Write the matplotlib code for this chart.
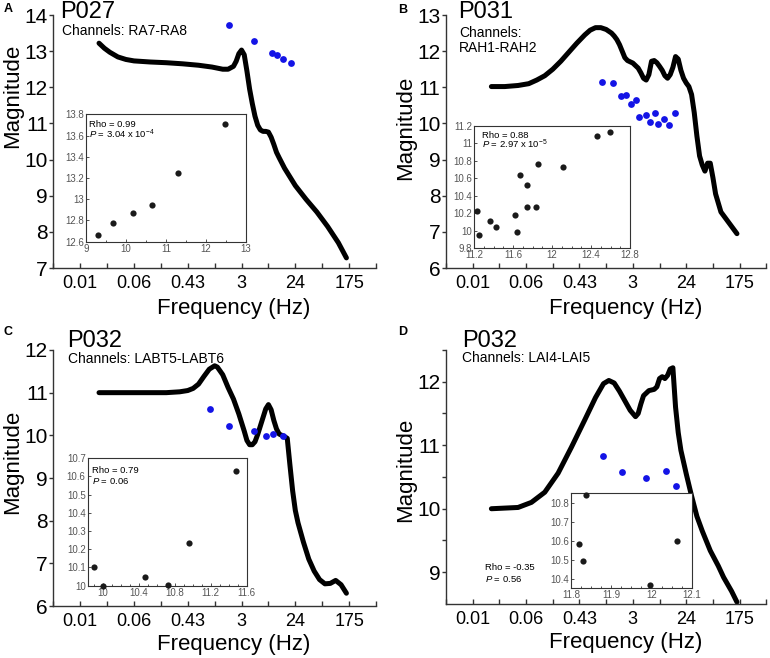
import numpy as np
import matplotlib.pyplot as plt
from matplotlib.ticker import FixedLocator, MultipleLocator, NullFormatter, FuncFormatter

plt.rcParams['font.family'] = 'Liberation Sans'
plt.rcParams['mathtext.fontset'] = 'custom'
plt.rcParams['mathtext.rm'] = 'Liberation Sans'
plt.rcParams['mathtext.it'] = 'Liberation Sans:italic'

# ---- data (frequency in Hz, magnitude) ----
tick_labels = ['0.01', '0.06', '0.43', '3', '24', '175']

# A: P027
freq_a = [0.01601, 0.01956, 0.02389, 0.03224, 0.04352, 0.05874, 0.1070, 0.1950, 0.3553, 0.6475,
          1.068, 1.593, 1.945, 2.376, 2.626, 2.902, 3.207, 3.544, 3.917, 4.329, 4.784, 5.287,
          5.844, 6.458, 7.137, 7.888, 8.718, 9.635, 10.65, 11.77, 13.00, 15.88, 19.40, 23.69,
          35.34, 52.73, 78.66, 117.3, 158.4]
mag_a = [13.22, 13.08, 12.97, 12.84, 12.77, 12.73, 12.70, 12.68, 12.65, 12.61,
         12.56, 12.50, 12.50, 12.58, 12.72, 12.93, 13.03, 12.90, 12.45, 11.95, 11.55, 11.20,
         10.95, 10.82, 10.78, 10.78, 10.76, 10.62, 10.42, 10.20, 10.05, 9.76, 9.52, 9.28,
         8.90, 8.55, 8.15, 7.70, 7.28]
dots_freq_a = [1.984, 5.080, 10.03, 12.01, 15.26, 20.19]
dots_mag_a = [13.72, 13.27, 12.96, 12.89, 12.78, 12.67]
ins_x_a = [9.31, 9.67, 10.18, 10.66, 11.31, 12.48]
ins_y_a = [12.665, 12.78, 12.87, 12.945, 13.25, 13.71]

# B: P031
freq_b = [0.01601, 0.02640, 0.04352, 0.06492, 0.08763, 0.1183, 0.1597, 0.2155, 0.2909, 0.3927,
          0.5301, 0.6475, 0.7909, 0.9660, 1.180, 1.441, 1.593, 1.760, 1.945, 2.150, 2.376,
          2.626, 3.207, 3.917, 4.329, 4.784, 5.287, 5.844, 6.458, 7.137, 7.888, 8.718, 9.635,
          10.65, 11.77, 13.00, 14.37, 15.88, 17.55, 19.40, 21.44, 23.69, 26.18, 28.94, 31.98,
          35.34, 39.06, 43.17, 47.71, 52.73, 58.27, 64.40, 71.17, 86.93, 106.2, 129.7, 158.4]
mag_b = [11.02, 11.02, 11.05, 11.10, 11.20, 11.32, 11.50, 11.72, 11.97, 12.22,
         12.45, 12.58, 12.65, 12.65, 12.60, 12.50, 12.42, 12.32, 12.18, 12.00, 11.82,
         11.74, 11.67, 11.53, 11.40, 11.25, 11.20, 11.35, 11.72, 11.74, 11.68, 11.58, 11.47,
         11.32, 11.25, 11.35, 11.55, 11.85, 11.78, 11.47, 11.25, 11.12, 11.02, 10.80, 10.30,
         9.65, 9.10, 8.85, 8.68, 8.90, 8.90, 8.50, 8.05, 7.55, 7.35, 7.15, 6.95]
dots_freq_b = [1.026, 1.530, 2.024, 2.523, 3.020, 3.544, 4.077, 5.182, 6.083, 7.281, 8.376,
               10.23, 12.25, 15.57]
dots_mag_b = [11.16, 11.12, 10.76, 10.78, 10.54, 10.66, 10.19, 10.23, 10.05, 10.29, 9.98,
              10.12, 9.95, 10.28]
ins_x_b = [11.234, 11.254, 11.364, 11.426, 11.62, 11.644, 11.672, 11.74, 11.74, 11.836,
           11.856, 12.116, 12.458, 12.595]
ins_y_b = [10.227, 9.95, 10.116, 10.04, 10.178, 9.983, 10.642, 10.528, 10.273, 10.273,
           10.765, 10.734, 11.085, 11.127]

# C: P032 LABT5-LABT6
freq_c = [0.01601, 0.05874, 0.1950, 0.3215, 0.4340, 0.5301, 0.6475, 0.7909, 0.9660, 1.180,
          1.304, 1.593, 1.945, 2.376, 2.902, 3.544, 3.917, 4.329, 4.784, 5.287, 5.844, 7.137,
          7.888, 8.718, 9.635, 10.65, 11.77, 13.00, 15.88, 17.55, 19.40, 21.44, 23.69, 26.18,
          31.98, 39.06, 47.71, 58.27, 71.17, 86.93, 106.2, 129.7, 158.4]
mag_c = [11.0, 11.0, 11.0, 11.02, 11.05, 11.10, 11.20, 11.38, 11.55, 11.63,
         11.60, 11.42, 11.12, 10.85, 10.50, 10.10, 9.88, 9.78, 9.78, 9.85, 10.02, 10.42,
         10.62, 10.72, 10.60, 10.35, 10.15, 10.03, 9.97, 9.93, 9.30, 8.70, 8.24, 7.95,
         7.50, 7.10, 6.82, 6.62, 6.52, 6.53, 6.60, 6.50, 6.30]
dots_freq_c = [1.005, 2.024, 5.182, 8.047, 10.44, 14.96]
dots_mag_c = [10.61, 10.22, 10.10, 9.98, 10.03, 9.98]
ins_x_c = [9.9, 10.0, 10.47, 10.72, 10.96, 11.48]
ins_y_c = [10.105, 10.0, 10.045, 10.004, 10.235, 10.63]

# D: P032 LAI4-LAI5
freq_d = [0.01601, 0.04352, 0.07175, 0.1183, 0.1950, 0.3215, 0.5301, 0.7909, 1.068, 1.304,
          1.593, 1.945, 2.376, 2.902, 3.544, 3.917, 4.329, 4.784, 5.844, 7.137, 7.888, 8.718,
          9.635, 10.65, 11.77, 13.00, 14.37, 15.88, 17.55, 19.40, 23.69, 28.94, 35.34, 43.17,
          58.27, 78.66, 96.07, 129.7, 158.4]
mag_d = [10.0, 10.02, 10.10, 10.26, 10.56, 10.97, 11.40, 11.75, 11.97, 12.02,
         11.98, 11.85, 11.70, 11.55, 11.45, 11.50, 11.65, 11.78, 11.86, 11.88, 11.92, 12.05,
         12.08, 12.05, 12.10, 12.20, 12.22, 11.60, 11.20, 10.92, 10.55, 10.20, 9.88, 9.65,
         9.34, 9.10, 8.92, 8.70, 8.53]
dots_freq_d = [1.046, 2.107, 5.182, 11.31, 15.88]
dots_mag_d = [10.83, 10.58, 10.49, 10.59, 10.36]
ins_x_d = [11.837, 11.82, 11.829, 11.997, 12.063]
ins_y_d = [10.844, 10.584, 10.493, 10.368, 10.602]

# ---- scale helpers ----
tick_pos = 175 * np.exp(-2.0 * np.arange(5, -1, -1))
minor_pos = 175 * np.exp(-2.0 * np.arange(6, -1, -1) + 1)
xlim = (minor_pos[0], minor_pos[-1])

fig = plt.figure(figsize=(7.7, 6.58), dpi=100)


def main_panel(rect, freq, mag, dfreq, dmag, ylim, yticks, ylab_y, xlab_y, yminor=None):
    ax = fig.add_axes(rect)
    ax.plot(freq, mag, color='black', lw=3.6, solid_capstyle='round',
            solid_joinstyle='round', zorder=2)
    ax.scatter(dfreq, dmag, s=24, color='#1414e6', zorder=3, clip_on=False, linewidths=0)
    ax.set_xscale('log')
    ax.set_xlim(xlim)
    ax.set_ylim(ylim)
    ax.xaxis.set_major_locator(FixedLocator(tick_pos))
    ax.xaxis.set_minor_locator(FixedLocator(minor_pos))
    ax.xaxis.set_minor_formatter(NullFormatter())
    ax.set_xticklabels(tick_labels)
    ax.set_yticks(yticks)
    ax.set_yticklabels(['%g' % v for v in yticks])
    if yminor is not None:
        ax.yaxis.set_minor_locator(FixedLocator(yminor))
    for s in ['top', 'right']:
        ax.spines[s].set_visible(False)
    for s in ['left', 'bottom']:
        ax.spines[s].set_color('#333333')
        ax.spines[s].set_linewidth(1.0)
    ax.tick_params(axis='x', which='both', direction='in', length=3.5, width=1,
                   color='#333333', labelsize=13, pad=5)
    ax.tick_params(axis='y', which='both', direction='out', length=3, width=1,
                   color='#333333', labelsize=15, pad=1)
    ax.set_xlabel('Frequency (Hz)', fontsize=16)
    ax.set_ylabel('Magnitude', fontsize=16)
    ax.xaxis.set_label_coords(0.56, xlab_y)
    ax.yaxis.set_label_coords(-0.093, ylab_y)
    ax.patch.set_visible(False)
    return ax


def inset(rect, x, y, xlim, ylim, xmajor, xminor, ymajor):
    ax = fig.add_axes(rect)
    ax.scatter(x, y, s=20, color='#1a1a1a', zorder=3, clip_on=False, linewidths=0)
    ax.set_xlim(xlim)
    ax.set_ylim(ylim)
    ax.xaxis.set_major_locator(MultipleLocator(xmajor))
    ax.xaxis.set_minor_locator(MultipleLocator(xminor))
    ax.yaxis.set_major_locator(MultipleLocator(ymajor))
    fmt = FuncFormatter(lambda v, p: '%g' % round(v, 3))
    ax.xaxis.set_major_formatter(fmt)
    ax.yaxis.set_major_formatter(fmt)
    for s in ax.spines.values():
        s.set_color('#333333')
        s.set_linewidth(0.8)
    ax.tick_params(which='both', direction='in', length=2.5, width=0.6, color='#333333',
                   labelsize=7, labelcolor='#555555', pad=1.5)
    ax.tick_params(which='minor', length=1.5)
    ax.tick_params(axis='y', which='minor', left=False)
    return ax


def rho_text(ax, x, y1, y2, rho, ptxt):
    ax.text(x, y1, rho, transform=ax.transAxes, fontsize=6.8, va='baseline')
    ax.text(x, y2, ptxt, transform=ax.transAxes, fontsize=6.8, va='baseline')


# Panel A
main_panel([0.0692, 0.5927, 0.4191, 0.3845], freq_a, mag_a, dots_freq_a, dots_mag_a,
           (7, 14), [7, 8, 9, 10, 11, 12, 13, 14], 0.68, -0.12)
ia = inset([0.1117, 0.6327, 0.2078, 0.1936], ins_x_a, ins_y_a, (9, 13), (12.6, 13.8), 1, 0.5, 0.2)
rho_text(ia, 0.02, 0.90, 0.81, 'Rho = 0.99', r'$P$ = 3.04 x 10$^{\mathregular{-4}}$')

# Panel B
main_panel([0.5792, 0.5927, 0.416, 0.3845], freq_b, mag_b, dots_freq_b, dots_mag_b,
           (6, 13), [6, 7, 8, 9, 10, 11, 12, 13], 0.555, -0.12)
ib = inset([0.6156, 0.6226, 0.2026, 0.1859], ins_x_b, ins_y_b, (11.2, 12.8), (9.8, 11.2), 0.4, 0.1, 0.2)
rho_text(ib, 0.05, 0.905, 0.815, 'Rho = 0.88', r'$P$ = 2.97 x 10$^{\mathregular{-5}}$')

# Panel C
main_panel([0.0692, 0.0790, 0.4191, 0.3891], freq_c, mag_c, dots_freq_c, dots_mag_c,
           (6, 12), [6, 7, 8, 9, 10, 11, 12], 0.5625, -0.11)
ic = inset([0.1139, 0.1099, 0.2065, 0.1936], ins_x_c, ins_y_c, (9.83, 11.6), (10.0, 10.7), 0.4, 0.1, 0.1)
rho_text(ic, 0.03, 0.885, 0.795, 'Rho = 0.79', r'$P$ = 0.06')

# Panel D
main_panel([0.5792, 0.0821, 0.416, 0.3860], freq_d, mag_d, dots_freq_d, dots_mag_d,
           (8.5, 12.5), [9, 10, 11, 12], 0.527, -0.11, yminor=[9.5, 10.5, 11.5, 12.5])
inset([0.7416, 0.1059, 0.1567, 0.1453], ins_x_d, ins_y_d, (11.8, 12.1), (10.35, 10.855), 0.1, 0.025, 0.1)
fig.text(485 / 770, 1 - 570 / 658, 'Rho = -0.35', fontsize=6.8, va='baseline')
fig.text(485 / 770, 1 - 582 / 658, r'$P$ = 0.56', fontsize=6.8, va='baseline')

# titles, channels, panel letters
fig.text(4 / 770, 1 - 12 / 658, 'A', fontsize=9, fontweight='bold', va='baseline')
fig.text(398 / 770, 1 - 13 / 658, 'B', fontsize=9, fontweight='bold', va='baseline')
fig.text(4 / 770, 1 - 335 / 658, 'C', fontsize=9, fontweight='bold', va='baseline')
fig.text(398 / 770, 1 - 335 / 658, 'D', fontsize=9, fontweight='bold', va='baseline')

fig.text(60 / 770, 1 - 18.3 / 658, 'P027', fontsize=17, va='baseline')
fig.text(458 / 770, 1 - 18.3 / 658, 'P031', fontsize=17, va='baseline')
fig.text(67 / 770, 1 - 346.7 / 658, 'P032', fontsize=17, va='baseline')
fig.text(462 / 770, 1 - 346.7 / 658, 'P032', fontsize=17, va='baseline')

fig.text(61.7 / 770, 1 - 35 / 658, 'Channels: RA7-RA8', fontsize=10, va='baseline')
fig.text(459 / 770, 1 - 36.7 / 658, 'Channels:', fontsize=10, va='baseline')
fig.text(459 / 770, 1 - 51.7 / 658, 'RAH1-RAH2', fontsize=10, va='baseline')
fig.text(67.7 / 770, 1 - 363 / 658, 'Channels: LABT5-LABT6', fontsize=10, va='baseline')
fig.text(462 / 770, 1 - 361.7 / 658, 'Channels: LAI4-LAI5', fontsize=10, va='baseline')

fig.savefig('out.png', dpi=100)
